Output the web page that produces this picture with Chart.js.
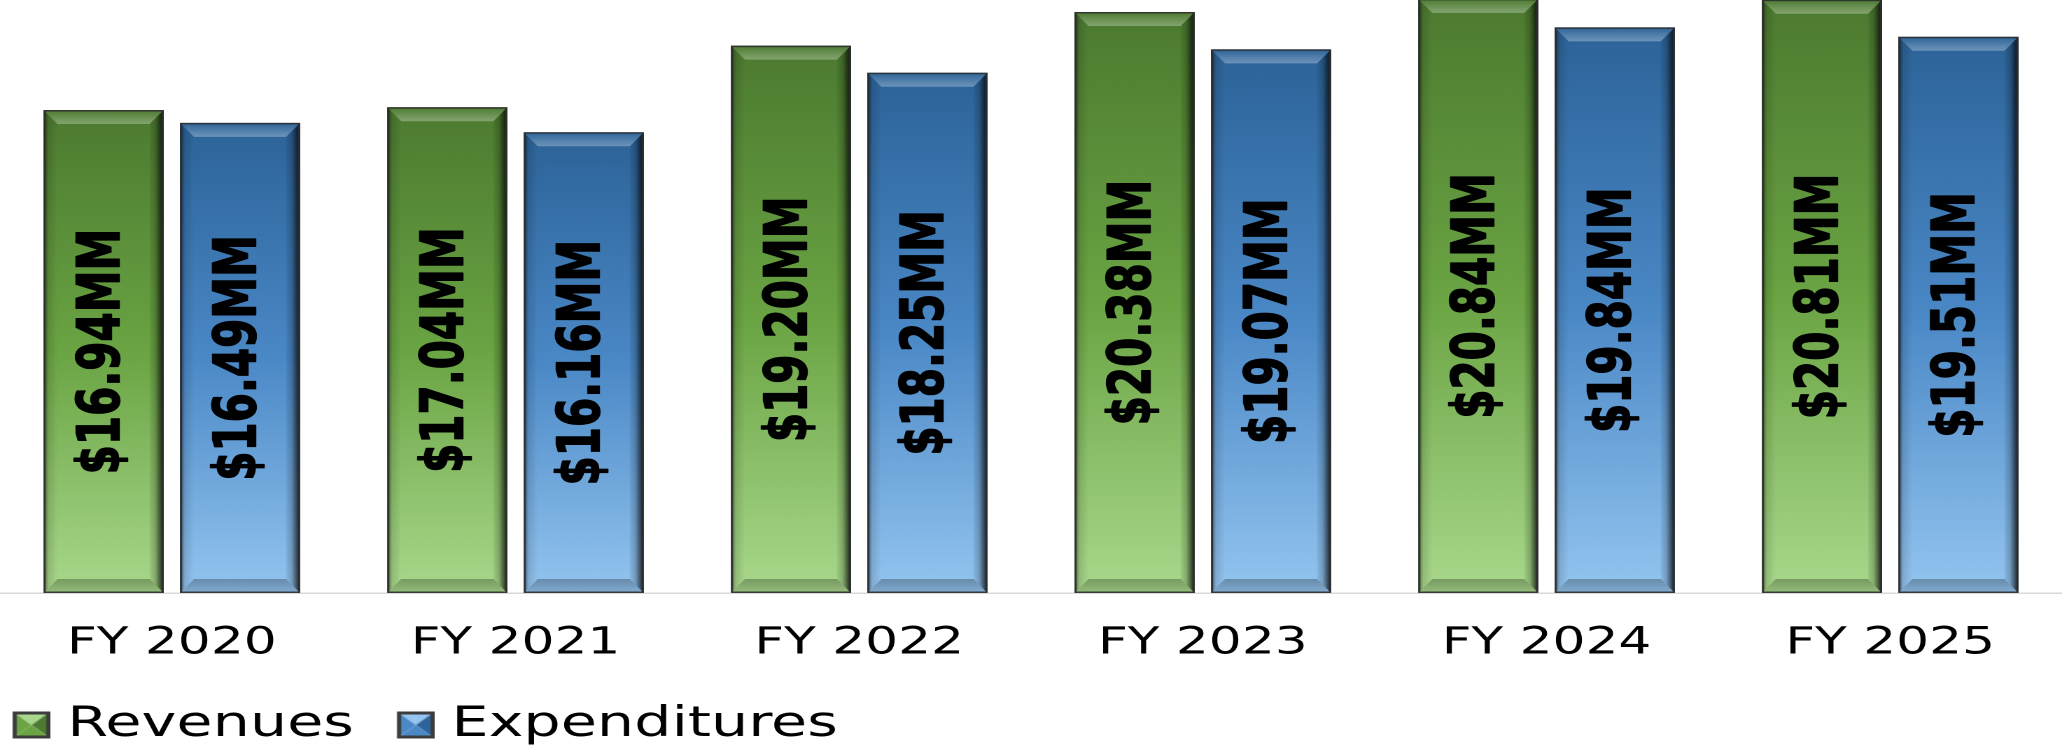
<!DOCTYPE html>
<html>
<head>
<meta charset="utf-8">
<title>Revenues vs Expenditures</title>
<script src="https://cdn.jsdelivr.net/npm/chart.js@4.4.1/dist/chart.umd.min.js"></script>
<style>
    html, body { margin: 0; padding: 0; background: #fff; overflow: hidden; }
    /* the chart is laid out narrow and widened horizontally */
    #wrap { width: 1473px; height: 745px; transform: scaleX(1.39986); transform-origin: 0 0; }
</style>
</head>
<body>
<div id="wrap"><canvas id="chart" width="1473" height="745"></canvas></div>
<script>
// ==================== DATA ====================
const categories = ['FY 2020', 'FY 2021', 'FY 2022', 'FY 2023', 'FY 2024', 'FY 2025'];
const seriesNames = ['Revenues', 'Expenditures'];
const revenues = [16.94, 17.04, 19.20, 20.38, 20.84, 20.81];
const expenditures = [16.49, 16.16, 18.25, 19.07, 19.84, 19.51];

// top / middle / bottom colours of each series
const greenStops = ['#4c7a30', '#6aa443', '#a9d88c'];
const blueStops = ['#2c6398', '#4a88c6', '#94c5f0'];

Chart.defaults.font.family = '"DejaVu Sans", Verdana, sans-serif';

/**
 * Degradado vertical por barra (oscuro arriba, claro abajo)
 */
function barGradient(stops) {
    return function(context) {
        const { ctx, chartArea, scales } = context.chart;
        if (!chartArea || context.raw === undefined) return stops[1];
        const top = scales.y.getPixelForValue(context.raw);
        const bottom = scales.y.getPixelForValue(0);
        const g = ctx.createLinearGradient(0, top, 0, bottom);
        g.addColorStop(0, stops[0]);
        g.addColorStop(0.5, stops[1]);
        g.addColorStop(1, stops[2]);
        return g;
    };
}

/**
 * Icono biselado para la leyenda (cuadro de 27px desplazado a la derecha
 * dentro de un lienzo de 36px)
 */
function legendIcon(stops) {
    const c = document.createElement('canvas');
    c.width = 36;
    c.height = 27;
    const g = c.getContext('2d');
    g.translate(9, 0);
    const s = 27, m = s / 2;
    const tri = (pts, color) => {
        g.beginPath();
        g.moveTo(pts[0][0], pts[0][1]);
        pts.slice(1).forEach(p => g.lineTo(p[0], p[1]));
        g.closePath();
        g.fillStyle = color;
        g.fill();
    };
    tri([[0, 0], [s, 0], [m, m]], stops[2]);
    tri([[s, 0], [s, s], [m, m]], stops[0]);
    tri([[0, s], [s, s], [m, m]], stops[1]);
    tri([[0, 0], [0, s], [m, m]], stops[1]);
    g.strokeStyle = '#3c3c3c';
    g.lineWidth = 3;
    g.strokeRect(1.5, 1.5, s - 3, s - 3);
    return c;
}

const legendIcons = [legendIcon(greenStops), legendIcon(blueStops)];

// Bisel de las barras: caras laterales, superior e inferior
const bevelPlugin = {
    id: 'bevel',
    afterDatasetsDraw(chart) {
        const { ctx, chartArea } = chart;
        ctx.save();
        ctx.beginPath();
        ctx.rect(chartArea.left, chartArea.top, chartArea.right - chartArea.left, chartArea.bottom - chartArea.top);
        ctx.clip();
        chart.data.datasets.forEach((ds, di) => {
            chart.getDatasetMeta(di).data.forEach(bar => {
                const p = bar.getProps(['x', 'y', 'base', 'width'], true);
                const x0 = p.x - p.width / 2, x1 = p.x + p.width / 2;
                const y0 = p.y, y1 = p.base;
                const bh = 10, bv = 14;

                const poly = (pts, fill) => {
                    ctx.beginPath();
                    ctx.moveTo(pts[0][0], pts[0][1]);
                    pts.slice(1).forEach(q => ctx.lineTo(q[0], q[1]));
                    ctx.closePath();
                    ctx.fillStyle = fill;
                    ctx.fill();
                };

                // cara superior (más clara)
                let g = ctx.createLinearGradient(0, y0, 0, y0 + bv);
                g.addColorStop(0, 'rgba(255,255,255,0.0)');
                g.addColorStop(0.7, 'rgba(255,255,255,0.22)');
                g.addColorStop(1, 'rgba(255,255,255,0.30)');
                poly([[x0, y0], [x1, y0], [x1 - bh, y0 + bv], [x0 + bh, y0 + bv]], g);

                // cara derecha (sombra)
                g = ctx.createLinearGradient(x1 - bh, 0, x1, 0);
                g.addColorStop(0, 'rgba(0,0,0,0.05)');
                g.addColorStop(0.4, 'rgba(0,0,0,0.2)');
                g.addColorStop(1, 'rgba(0,0,0,0.85)');
                poly([[x1, y0], [x1, y1], [x1 - bh, y1 - bv], [x1 - bh, y0 + bv]], g);

                // cara izquierda
                g = ctx.createLinearGradient(x0, 0, x0 + bh, 0);
                g.addColorStop(0, 'rgba(0,0,0,0.55)');
                g.addColorStop(0.35, 'rgba(0,0,0,0.12)');
                g.addColorStop(1, 'rgba(0,0,0,0.0)');
                poly([[x0, y0], [x0 + bh, y0 + bv], [x0 + bh, y1 - bv], [x0, y1]], g);

                // cara inferior
                g = ctx.createLinearGradient(0, y1 - bv, 0, y1);
                g.addColorStop(0, 'rgba(0,0,0,0.28)');
                g.addColorStop(1, 'rgba(0,0,0,0.12)');
                poly([[x0, y1], [x0 + bh, y1 - bv], [x1 - bh, y1 - bv], [x1, y1]], g);

                // contorno
                ctx.strokeStyle = 'rgba(45,45,45,0.9)';
                ctx.lineWidth = 1.5;
                ctx.strokeRect(x0 + 0.75, y0 + 0.75, p.width - 1.5, y1 - y0 - 1.5);
            });
        });
        ctx.restore();
    }
};

// Etiquetas de valor giradas dentro de cada barra
const valueLabelPlugin = {
    id: 'valueLabels',
    afterDatasetsDraw(chart) {
        const ctx = chart.ctx;
        ctx.save();
        ctx.font = 'bold 42px "DejaVu Sans", Verdana, sans-serif';
        ctx.fillStyle = '#000';
        ctx.strokeStyle = '#000';
        ctx.lineWidth = 1.2;
        ctx.lineJoin = 'round';
        ctx.textAlign = 'center';
        ctx.textBaseline = 'middle';
        chart.data.datasets.forEach((ds, di) => {
            chart.getDatasetMeta(di).data.forEach((bar, i) => {
                const p = bar.getProps(['x', 'y', 'base'], true);
                const text = '$' + ds.data[i].toFixed(2) + 'MM';
                ctx.save();
                ctx.translate(p.x, (p.y + p.base) / 2);
                ctx.rotate(-Math.PI / 2);
                ctx.fillText(text, 0, 0);
                ctx.strokeText(text, 0, 0);
                ctx.restore();
            });
        });
        ctx.restore();
    }
};

const ctx = document.getElementById('chart').getContext('2d');

new Chart(ctx, {
    type: 'bar',
    data: {
        labels: categories,
        datasets: [
            {
                label: seriesNames[0],
                data: revenues,
                backgroundColor: barGradient(greenStops),
                borderWidth: 0
            },
            {
                label: seriesNames[1],
                data: expenditures,
                backgroundColor: barGradient(blueStops),
                borderWidth: 0
            }
        ]
    },
    options: {
        responsive: false,
        animation: false,
        devicePixelRatio: 2,
        categoryPercentage: 0.794,
        barPercentage: 0.88,
        layout: {
            padding: { top: 0, left: 0, right: 0, bottom: -11 }
        },
        plugins: {
            legend: {
                position: 'bottom',
                align: 'start',
                labels: {
                    usePointStyle: true,
                    pointStyleWidth: 18,
                    boxWidth: 27,
                    boxHeight: 27,
                    padding: 9,
                    color: '#000',
                    font: { size: 42 },
                    generateLabels(chart) {
                        const items = Chart.defaults.plugins.legend.labels.generateLabels(chart);
                        items.forEach((item, i) => {
                            item.pointStyle = legendIcons[i];
                            // espacio extra entre las dos entradas
                            if (i === 0) item.text = item.text + ' \u2009';
                        });
                        return items;
                    }
                }
            },
            tooltip: { enabled: false }
        },
        scales: {
            x: {
                grid: { display: false, drawTicks: false },
                border: { display: true, color: '#d9d9d9', width: 1.5 },
                ticks: {
                    color: '#000',
                    padding: 0,
                    font: { size: 37, lineHeight: '102px' }
                }
            },
            y: {
                display: false,
                min: 0,
                max: 20.8
            }
        }
    },
    plugins: [bevelPlugin, valueLabelPlugin]
});
</script>
</body>
</html>
